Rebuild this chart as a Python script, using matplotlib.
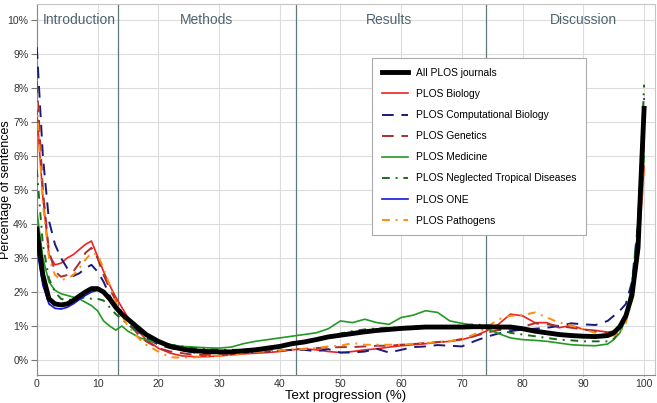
import numpy as np
import matplotlib
matplotlib.use("Agg")
import matplotlib.pyplot as plt

plt.rcParams['font.family'] = ['Liberation Sans', 'DejaVu Sans']

# text progression (%) sample points
x = ([0, 1, 2, 3, 4, 5, 6, 7, 8, 9, 10, 11, 12, 13, 14, 15, 16, 17, 18]
     + list(range(20, 95, 2)) + [95, 96, 97, 98, 99, 100])

# percentage of sentences
all_plos = [3.85, 2.5, 1.8, 1.65, 1.62, 1.65, 1.75, 1.88, 2.0, 2.1, 2.1, 2.0, 1.8, 1.55, 1.35, 1.2, 1.05, 0.9, 0.75,
            0.55, 0.4, 0.32, 0.27, 0.25, 0.24, 0.24, 0.27, 0.3, 0.35, 0.4, 0.48, 0.53, 0.6, 0.68, 0.73, 0.78, 0.83,
            0.87, 0.9, 0.93, 0.95, 0.97, 0.97, 0.97, 0.97, 0.98, 0.98, 0.97, 0.97, 0.92, 0.85, 0.8, 0.75, 0.72, 0.7,
            0.69, 0.72, 0.8, 0.98, 1.3, 1.9, 3.3, 7.4]
biology = [7.3, 4.8, 3.1, 2.8, 2.85, 3.0, 3.1, 3.25, 3.4, 3.5, 3.05, 2.6, 2.2, 1.85, 1.55, 1.25, 1.0, 0.8, 0.6,
           0.35, 0.2, 0.12, 0.1, 0.1, 0.12, 0.15, 0.18, 0.2, 0.22, 0.25, 0.3, 0.33, 0.3, 0.25, 0.22, 0.25, 0.3,
           0.33, 0.38, 0.42, 0.45, 0.48, 0.52, 0.55, 0.6, 0.7, 0.85, 1.05, 1.35, 1.3, 1.1, 1.1, 0.95, 1.02, 0.9,
           0.87, 0.82, 0.85, 1.0, 1.3, 1.9, 3.0, 5.7]
comp_bio = [9.2, 6.0, 4.1, 3.4, 3.0, 2.7, 2.47, 2.55, 2.7, 2.8, 2.6, 2.3, 1.9, 1.55, 1.35, 1.15, 0.95, 0.8, 0.65,
            0.45, 0.35, 0.28, 0.22, 0.2, 0.2, 0.2, 0.22, 0.25, 0.25, 0.28, 0.3, 0.3, 0.26, 0.32, 0.22, 0.22, 0.25,
            0.33, 0.22, 0.3, 0.38, 0.4, 0.44, 0.42, 0.4, 0.55, 0.68, 0.78, 0.85, 0.9, 0.92, 0.95, 1.0, 1.08, 1.05,
            1.03, 1.15, 1.3, 1.45, 1.65, 2.3, 4.0, 7.7]
genetics = [8.2, 5.0, 3.2, 2.6, 2.45, 2.5, 2.6, 2.85, 3.15, 3.3, 3.0, 2.5, 2.1, 1.75, 1.4, 1.15, 0.9, 0.7, 0.55,
            0.35, 0.25, 0.2, 0.15, 0.15, 0.17, 0.2, 0.22, 0.25, 0.25, 0.28, 0.3, 0.33, 0.35, 0.37, 0.38, 0.38, 0.4,
            0.42, 0.42, 0.45, 0.47, 0.5, 0.53, 0.55, 0.62, 0.7, 0.8, 0.88, 0.92, 0.98, 1.08, 1.05, 1.0, 0.95, 0.9,
            0.85, 0.8, 0.82, 0.95, 1.25, 2.0, 3.4, 6.4]
medicine = [4.4, 3.0, 2.3, 2.05, 1.95, 1.9, 1.85, 1.8, 1.7, 1.6, 1.45, 1.15, 1.0, 0.88, 1.0, 0.85, 0.75, 0.65, 0.6,
            0.5, 0.45, 0.4, 0.38, 0.36, 0.35, 0.38, 0.48, 0.55, 0.6, 0.65, 0.7, 0.75, 0.8, 0.92, 1.15, 1.1, 1.2,
            1.1, 1.05, 1.25, 1.32, 1.45, 1.4, 1.15, 1.08, 1.02, 0.93, 0.78, 0.65, 0.6, 0.58, 0.55, 0.5, 0.45, 0.43,
            0.42, 0.47, 0.6, 0.8, 1.2, 2.0, 3.5, 6.0]
ntd = [5.6, 3.4, 2.4, 2.0, 1.8, 1.75, 1.8, 1.8, 1.85, 1.8, 1.8, 1.75, 1.55, 1.35, 1.2, 1.05, 0.9, 0.8, 0.7,
       0.55, 0.45, 0.4, 0.35, 0.32, 0.3, 0.3, 0.3, 0.33, 0.37, 0.42, 0.5, 0.55, 0.62, 0.7, 0.78, 0.85, 0.9,
       0.93, 0.95, 0.97, 0.98, 1.0, 1.0, 1.0, 1.02, 1.05, 1.02, 0.9, 0.8, 0.75, 0.7, 0.65, 0.6, 0.58, 0.55,
       0.55, 0.55, 0.62, 0.85, 1.3, 2.2, 4.0, 8.1]
plos_one = [3.3, 2.2, 1.65, 1.52, 1.5, 1.55, 1.65, 1.78, 1.9, 2.0, 2.05, 1.98, 1.8, 1.55, 1.33, 1.18, 1.03, 0.88, 0.74,
            0.54, 0.4, 0.32, 0.27, 0.25, 0.24, 0.24, 0.27, 0.3, 0.35, 0.41, 0.49, 0.55, 0.62, 0.7, 0.75, 0.8, 0.85,
            0.89, 0.92, 0.95, 0.97, 0.99, 0.99, 0.99, 0.98, 0.98, 0.97, 0.96, 0.95, 0.9, 0.84, 0.79, 0.74, 0.71, 0.69,
            0.68, 0.72, 0.82, 1.0, 1.32, 1.95, 3.4, 7.3]
pathogens = [7.6, 4.6, 3.0, 2.5, 2.35, 2.4, 2.5, 2.7, 2.95, 3.15, 3.1, 2.7, 2.2, 1.7, 1.3, 1.0, 0.8, 0.6, 0.45,
             0.25, 0.08, 0.07, 0.08, 0.1, 0.13, 0.15, 0.2, 0.25, 0.25, 0.28, 0.32, 0.32, 0.35, 0.4, 0.42, 0.5, 0.45,
             0.45, 0.45, 0.45, 0.48, 0.5, 0.52, 0.55, 0.62, 0.75, 0.95, 1.2, 1.3, 1.32, 1.4, 1.25, 1.1, 1.02, 0.9,
             0.8, 0.72, 0.72, 0.8, 1.1, 1.8, 3.2, 5.5]

sections = ['Introduction', 'Methods', 'Results', 'Discussion']
section_pos = [7, 28, 58, 90]
section_bounds = [13.3, 42.7, 74]

fig = plt.figure(figsize=(6.57, 4.03), dpi=100)
ax = fig.add_axes([0.056, 0.0695, 0.941, 0.9205])

ax.plot(x, biology, color='#f02020', lw=1.2, label='PLOS Biology', zorder=3)
ax.plot(x, comp_bio, color='#1a1a7a', lw=1.4, ls=(0, (6, 4)), label='PLOS Computational Biology', zorder=3)
ax.plot(x, genetics, color='#a8302c', lw=1.4, ls=(0, (6, 4)), label='PLOS Genetics', zorder=3)
ax.plot(x, medicine, color='#229922', lw=1.2, label='PLOS Medicine', zorder=3)
ax.plot(x, ntd, color='#1a6e1a', lw=1.4, ls=(0, (4, 3, 1, 3)), label='PLOS Neglected Tropical Diseases', zorder=3)
ax.plot(x, plos_one, color='#1515e0', lw=1.2, label='PLOS ONE', zorder=3)
ax.plot(x, pathogens, color='#ff8c10', lw=1.4, ls=(0, (4, 3, 1, 3)), label='PLOS Pathogens', zorder=3)
ax.plot(x, all_plos, color='black', lw=3.5, label='All PLOS journals', zorder=4)

for b in section_bounds:
    ax.axvline(b, color='#5f7a78', lw=0.9, zorder=2)
for name, p in zip(sections, section_pos):
    ax.text(p, 10, name, color='#4d6470', fontsize=10, ha='center', va='center')

ax.set_xlim(0, 101.8)
ax.set_ylim(-0.44, 10.47)
ax.set_xticks(range(0, 101, 10))
ax.set_yticks(range(0, 11))
ax.set_yticklabels([f'{v}%' for v in range(0, 11)])
ax.grid(color='#dcdcdc', lw=0.8, zorder=0)
ax.set_axisbelow(True)
for s in ax.spines.values():
    s.set_color('#c4c4c4')
ax.spines['left'].set_color('#888888')
ax.spines['bottom'].set_color('#888888')
ax.tick_params(labelsize=7.6, colors='#333333', width=0.8)
ax.tick_params(axis='y', length=4, pad=2, color='#777777')
ax.tick_params(axis='x', length=1, pad=2, color='#777777')
ax.set_xlabel('Text progression (%)', fontsize=9.5)
ax.xaxis.set_label_coords(0.5, -0.041)
ax.set_ylabel('Percentage of sentences', fontsize=9)
ax.yaxis.set_label_coords(-0.04, 0.5)

handles, labels = ax.get_legend_handles_labels()
order = [7, 0, 1, 2, 3, 4, 5, 6]
leg = ax.legend([handles[i] for i in order], [labels[i] for i in order],
                loc='upper left', bbox_to_anchor=(0.542, 0.854), borderaxespad=0,
                fontsize=7.4, fancybox=False, edgecolor='#aaaaaa', framealpha=1,
                handlelength=2.6, labelspacing=1.08, borderpad=0.95, handletextpad=0.7)
leg.get_frame().set_linewidth(0.8)

fig.savefig('out.png', dpi=100)
